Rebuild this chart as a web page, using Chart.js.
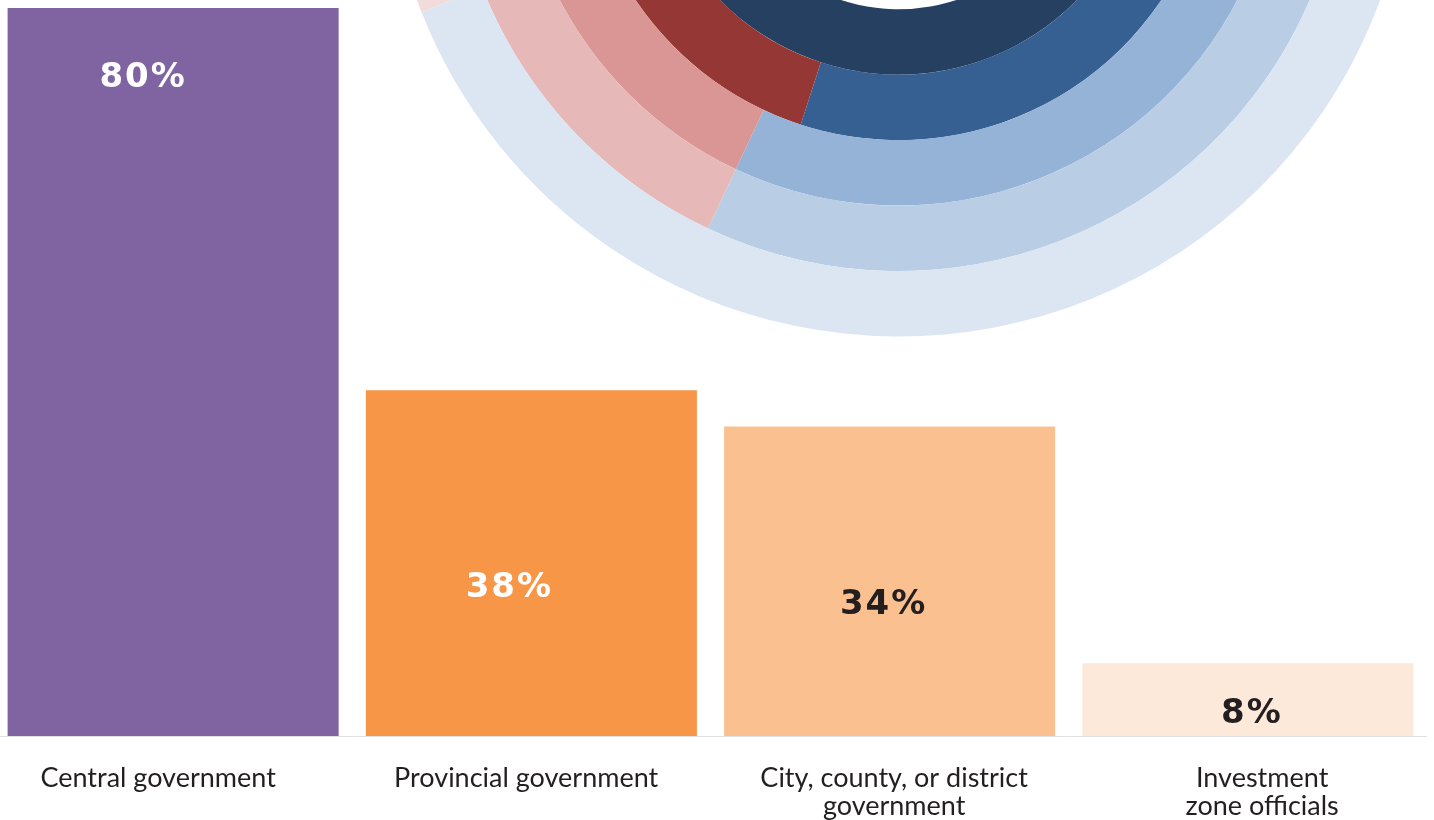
<!DOCTYPE html>
<html>
<head>
<meta charset="utf-8">
<script src="https://cdn.jsdelivr.net/npm/chart.js@4.4.1/dist/chart.umd.min.js"></script>
<style>
html, body { margin: 0; padding: 0; background: #fff; overflow: hidden; width: 1434px; height: 820px; }
#ringsWrap { position: absolute; left: 385px; top: -690px; width: 1027px; height: 1027px; }
#barsWrap { position: absolute; left: -6px; top: 0; width: 1433px; height: 851px; }
</style>
</head>
<body>
<div id="ringsWrap"><canvas id="rings"></canvas></div>
<div id="barsWrap"><canvas id="bars"></canvas></div>
<script>
const categories = [
    ['Central government'],
    ['Provincial government'],
    ['City, county, or district', 'government'],
    ['Investment', 'zone officials']
];
const shares = [80, 38, 34, 8];
const barColours = ['#8064a2', '#f79646', '#fac090', '#fde9d9'];
const labelColours = ['#ffffff', '#ffffff', '#231f20', '#231f20'];

// decorative rings behind the bars, outer ring first
const ringBlue = [69, 57, 57, 55, 66];
const ringRed = [31, 43, 43, 45, 34];
const ringBlueColours = ['#dce6f2', '#b9cde5', '#95b3d7', '#366092', '#254061'];
const ringRedColours = ['#f2dcdb', '#e6b9b8', '#d99694', '#953735', '#632523'];

// where the % labels sit: [dx from bar centre, dy from bar top]
const labelNudge = [[-30, 70], [-22, 198], [-6, 179], [4, 51]];

function createRings() {
    const ringSets = ringBlue.map(function (b, i) {
        return {
            data: [b, ringRed[i]],
            backgroundColor: [ringBlueColours[i], ringRedColours[i]],
            borderWidth: 0,
            hoverOffset: 0
        };
    });
    new Chart(document.getElementById('rings'), {
        type: 'doughnut',
        data: { labels: ['blue', 'red'], datasets: ringSets },
        options: {
            maintainAspectRatio: false,
            animation: false,
            events: [],
            radius: 513,
            cutout: '36.2%',
            plugins: { legend: { display: false }, tooltip: { enabled: false } }
        }
    });
}

const valueLabels = {
    id: 'valueLabels',
    afterDatasetsDraw(chart) {
        const ctx = chart.ctx;
        const meta = chart.getDatasetMeta(0);
        ctx.save();
        ctx.font = 'bold 34px "DejaVu Sans"';
        ctx.letterSpacing = '2px';
        ctx.textAlign = 'center';
        ctx.textBaseline = 'middle';
        meta.data.forEach(function (bar, i) {
            ctx.fillStyle = labelColours[i];
            ctx.fillText(shares[i] + '%', bar.x + labelNudge[i][0], bar.y + labelNudge[i][1]);
        });
        ctx.restore();
    }
};

function createBars() {
    new Chart(document.getElementById('bars'), {
        type: 'bar',
        data: {
            labels: categories,
            datasets: [{
                data: shares,
                backgroundColor: barColours,
                borderWidth: 0,
                categoryPercentage: 1,
                barPercentage: 0.924
            }]
        },
        options: {
            maintainAspectRatio: false,
            animation: false,
            events: [],
            layout: { padding: { top: 8, bottom: 3, left: 0, right: 0 } },
            plugins: { legend: { display: false }, tooltip: { enabled: false } },
            scales: {
                y: { display: false, min: 0, max: 80 },
                x: {
                    grid: { display: false, drawTicks: false },
                    ticks: { display: false },
                    border: { display: true, color: '#e2e2e2', width: 1 }
                },
                // label row is spaced a little wider than the bars
                x2: {
                    type: 'linear',
                    position: 'bottom',
                    offset: false,
                    min: -0.446,
                    max: 3.448,
                    grid: { display: false, drawTicks: false, offset: false },
                    border: { display: false },
                    afterBuildTicks: function (scale) {
                        scale.ticks = categories.map(function (c, i) { return { value: i }; });
                    },
                    ticks: {
                        autoSkip: false,
                        maxRotation: 0,
                        padding: 28,
                        color: '#231f20',
                        font: { family: 'Lato', size: 27, lineHeight: '28px' },
                        callback: function (v) { return categories[v]; }
                    }
                }
            }
        },
        plugins: [valueLabels]
    });
}

createRings();
createBars();
</script>
</body>
</html>
